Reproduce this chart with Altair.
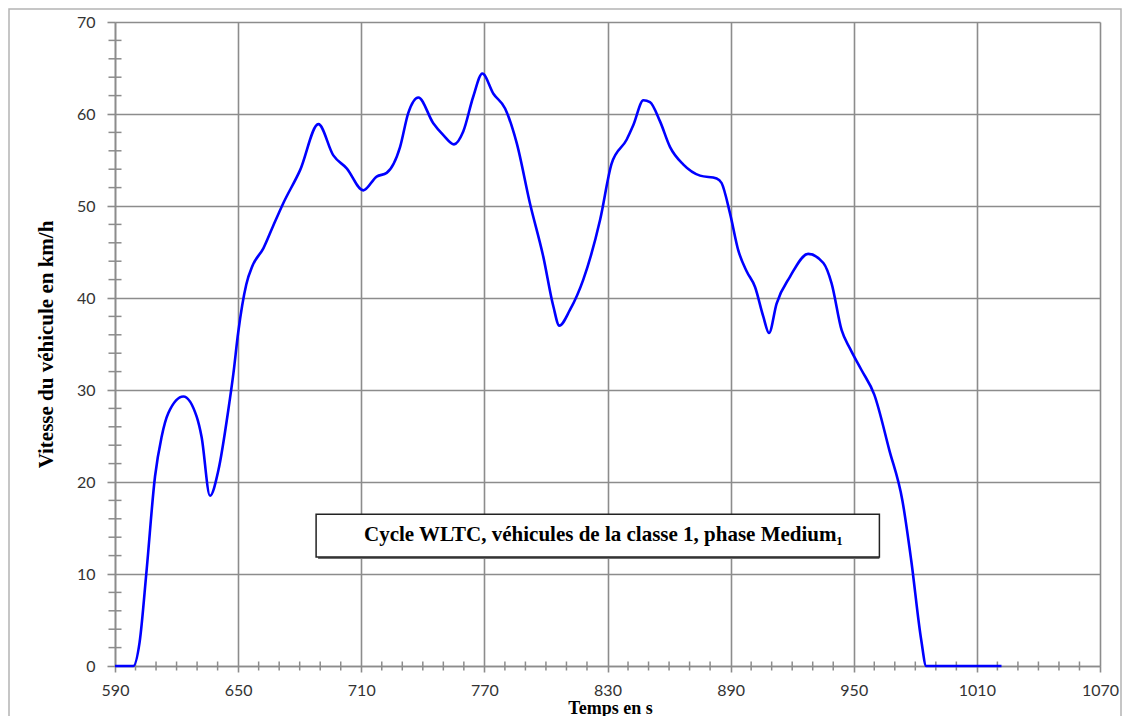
import altair as alt
import pandas as pd

# Vehicle speed (km/h) vs time (s) - WLTC class 1, Medium phase
t = [590, 598.9, 602, 605.4, 609.5, 612.7, 616, 623.3, 629.8, 632.2, 636.3, 640.4,
     645.2, 647.7, 650, 654, 657, 662.3, 667, 672, 680.2, 689.1, 696.4, 702.9, 711,
     717.5, 722.4, 728.9, 732.9, 737.8, 745.1, 750, 755.2, 759.7, 764.6, 769, 774.4,
     780.1, 785.8, 792.2, 798.7, 803.6, 806.5, 811.7, 818.2, 826.4, 832, 839.3, 842.6,
     847.5, 850.7, 855.6, 860.5, 867, 875.1, 883.2, 885.6, 889.7, 893.7, 897.8, 901.9,
     905.9, 908.7, 912.4, 918.9, 927.8, 935.2, 939.2, 944.1, 948.2, 953.7, 960, 967.3,
     973.7, 978, 982.9, 985.3, 1022]
v = [0, 0, 2.6, 10.4, 20.6, 24.9, 27.5, 29.3, 27.1, 24.9, 18.5, 21.3,
     27.8, 31.8, 36.2, 41.5, 43.5, 45.4, 47.8, 50.3, 53.9, 58.9, 55.5, 54.1, 51.7,
     53.2, 53.6, 56.4, 60.1, 61.8, 59.0, 57.7, 56.7, 58.1, 61.9, 64.4, 62.2,
     60.6, 56.8, 50.3, 44.5, 39.1, 37.0, 38.7, 42.0, 48.5, 54.6, 57.2, 58.8,
     61.5, 61.3, 59.2, 56.4, 54.5, 53.3, 53.0, 52.5, 49.2, 45.2, 42.9, 41.2,
     38.0, 36.2, 39.4, 42.3, 44.8, 43.8, 41.6, 36.5, 34.5, 32.2, 29.5, 23.5,
     18.0, 11.5, 2.8, 0, 0]

x_major = list(range(590, 1071, 60))
x_minor = [x for x in range(600, 1070, 10) if (x - 590) % 60 != 0]
y_major = list(range(0, 71, 10))
y_minor = [y for y in range(2, 70, 2) if y % 10 != 0]

x_title = "Temps en s"
y_title = "Vitesse du véhicule en km/h"
annot_text = "Cycle WLTC, véhicules de la classe 1, phase Medium₁"
annot_box = {"t": 688.0, "t2": 962.5, "v": 11.85, "v2": 16.5}
annot_pos = {"t": 828.0, "v": 14.2}

GRID = "#8c8c8c"
LABEL_FONT = "Lato"
TITLE_FONT = "Liberation Serif"

xs = alt.Scale(domain=[590, 1070], nice=False, zero=False)
ys = alt.Scale(domain=[0, 70], nice=False)

x_axis = alt.Axis(values=x_major, format="d", grid=True, gridColor=GRID, gridWidth=1.6,
                  domainColor=GRID, domainWidth=1.6, tickColor=GRID, tickWidth=1.6,
                  tickSize=6, labelFont=LABEL_FONT, labelFontSize=16, labelColor="#333333",
                  labelPadding=10, labelFlush=False,
                  title=x_title, titleFont=TITLE_FONT, titleFontSize=18,
                  titleFontWeight="bold", titleColor="#000000",
                  titleX=495, titleY=47, titleBaseline="alphabetic", titleAlign="center")
y_axis = alt.Axis(values=y_major, format="d", grid=True, gridColor=GRID, gridWidth=1.6,
                  domainColor=GRID, domainWidth=1.6, tickColor=GRID, tickWidth=1.6,
                  tickSize=8, labelFont=LABEL_FONT, labelFontSize=16, labelColor="#333333",
                  labelPadding=12, labelFlush=False,
                  title=y_title, titleFont=TITLE_FONT, titleFontSize=21,
                  titleFontWeight="bold", titleColor="#000000",
                  titleX=-69, titleY=322, titleAngle=270, titleBaseline="middle",
                  titleAlign="center")

X = alt.X("t:Q", scale=xs, axis=x_axis)
Y = alt.Y("v:Q", scale=ys, axis=y_axis)

df = pd.DataFrame({"t": t, "v": v})
line = alt.Chart(df).mark_line(color="#0000ff", strokeWidth=2.6,
                               interpolate="monotone").encode(x=X, y=Y)

xm = pd.DataFrame({"t": x_minor, "v": [0] * len(x_minor)})
xticks = alt.Chart(xm).mark_tick(orient="vertical", size=9, thickness=1.5,
                                 color=GRID, opacity=1).encode(x=X, y=Y)

ym = pd.DataFrame({"t": [590] * len(y_minor), "v": y_minor})
yticks = alt.Chart(ym).mark_tick(orient="horizontal", size=13, thickness=1.5,
                                 color=GRID, opacity=1).encode(x=X, y=Y)

bx = pd.DataFrame([annot_box])
shadow = alt.Chart(bx).mark_rect(color="#6e6e6e", xOffset=2, yOffset=2).encode(
    x=X, x2="t2:Q", y=Y, y2="v2:Q")
box = alt.Chart(bx).mark_rect(fill="#ffffff", stroke="#222222", strokeWidth=1.5).encode(
    x=X, x2="t2:Q", y=Y, y2="v2:Q")

tx = pd.DataFrame([{"t": annot_pos["t"], "v": annot_pos["v"], "label": annot_text}])
text = alt.Chart(tx).mark_text(font=TITLE_FONT, fontSize=21, fontWeight="bold",
                               color="#000000", align="center", baseline="middle").encode(
    x=X, y=Y, text="label:N")

frame = alt.Chart(pd.DataFrame({"k": [0]})).mark_rect(
    fillOpacity=0, stroke="#b4b4b4", strokeWidth=1.5).encode(
    x=alt.value(-106), x2=alt.value(1006), y=alt.value(-13), y2=alt.value(720))

chart = alt.layer(frame, xticks, yticks, line, shadow, box, text).properties(
    width=985, height=644,
    autosize=alt.AutoSizeParams(type="none"),
    padding={"left": 107, "top": 14, "right": 22, "bottom": 50},
    background="#ffffff",
).configure_view(strokeWidth=0)

chart.save("out.html", embed_options={"renderer": "svg", "actions": False})
